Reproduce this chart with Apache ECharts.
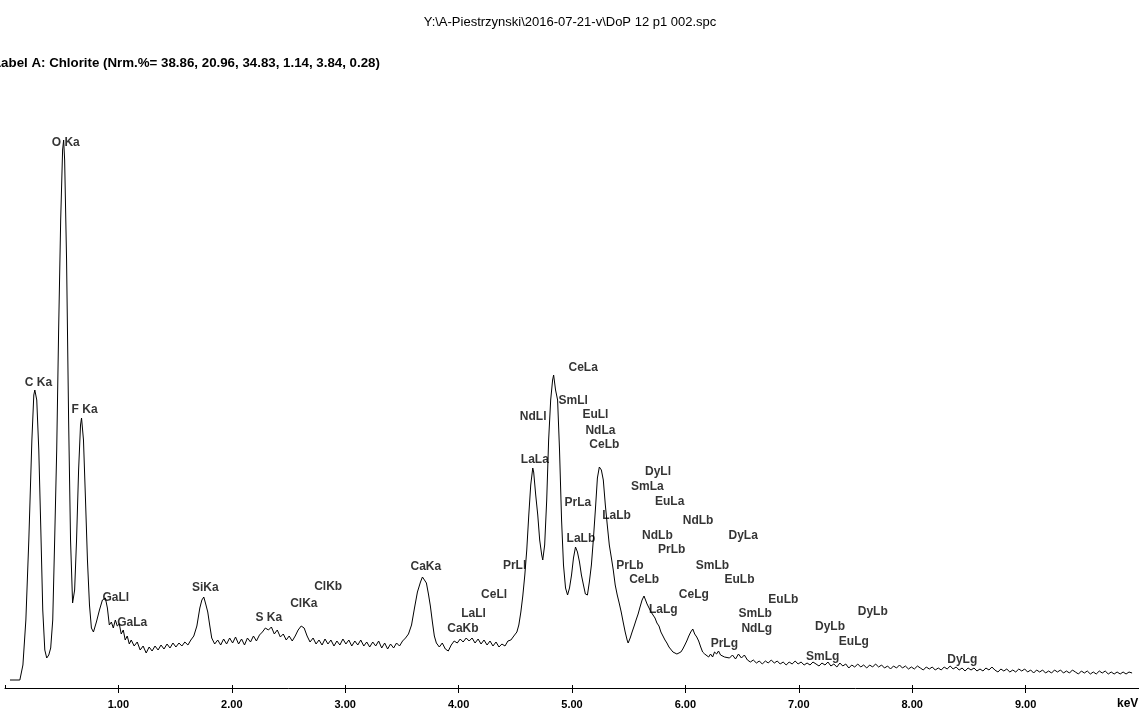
<!DOCTYPE html>
<html><head><meta charset="utf-8">
<script src="https://cdn.jsdelivr.net/npm/echarts/dist/echarts.min.js"></script>
<style>html,body{margin:0;padding:0;background:#fff;overflow:hidden}#c{width:1139px;height:711px}</style>
</head><body><div id="c"></div>
<script>
const titleText = 'Y:\\A-Piestrzynski\\2016-07-21-v\\DoP 12 p1 002.spc';
const labelText = 'Label A: Chlorite (Nrm.%= 38.86, 20.96, 34.83, 1.14, 3.84, 0.28)';
const axisUnit = 'keV';

const energyKeV = [
0.044,0.131,0.158,0.184,0.210,0.237,0.254,0.263,0.280,0.298,
0.316,0.333,0.351,0.368,0.386,0.403,0.421,0.438,0.456,0.473,
0.491,0.508,0.517,0.526,0.543,0.561,0.578,0.596,0.614,0.631,
0.649,0.666,0.675,0.692,0.710,0.727,0.745,0.762,0.780,0.806,
0.833,0.859,0.885,0.903,0.920,0.938,0.955,0.973,0.990,1.008,
1.025,1.043,1.060,1.078,1.096,1.113,1.139,1.166,1.192,1.218,
1.245,1.271,1.297,1.323,1.350,1.376,1.402,1.429,1.455,1.481,
1.507,1.534,1.560,1.586,1.613,1.639,1.665,1.692,1.718,1.736,
1.753,1.770,1.788,1.805,1.823,1.849,1.876,1.902,1.928,1.954,
1.981,2.007,2.033,2.060,2.086,2.112,2.138,2.165,2.191,2.217,
2.244,2.270,2.296,2.323,2.349,2.375,2.401,2.428,2.454,2.480,
2.506,2.533,2.559,2.585,2.612,2.638,2.664,2.690,2.717,2.743,
2.769,2.796,2.822,2.848,2.874,2.901,2.927,2.953,2.980,3.006,
3.032,3.058,3.085,3.111,3.137,3.164,3.190,3.216,3.243,3.269,
3.295,3.322,3.348,3.374,3.400,3.427,3.453,3.479,3.506,3.532,
3.558,3.585,3.611,3.637,3.664,3.681,3.699,3.716,3.734,3.751,
3.769,3.786,3.804,3.830,3.856,3.883,3.909,3.935,3.961,3.988,
4.014,4.040,4.067,4.093,4.119,4.145,4.172,4.198,4.224,4.251,
4.277,4.303,4.330,4.356,4.382,4.409,4.435,4.461,4.487,4.514,
4.531,4.549,4.566,4.584,4.601,4.619,4.636,4.654,4.662,4.680,
4.698,4.715,4.733,4.742,4.759,4.777,4.794,4.812,4.829,4.838,
4.855,4.873,4.890,4.908,4.925,4.943,4.961,4.978,4.996,5.013,
5.031,5.048,5.066,5.083,5.101,5.118,5.136,5.153,5.171,5.188,
5.206,5.224,5.241,5.259,5.276,5.294,5.311,5.329,5.346,5.364,
5.381,5.399,5.416,5.434,5.451,5.469,5.486,5.495,5.513,5.530,
5.548,5.565,5.583,5.600,5.618,5.635,5.644,5.662,5.679,5.697,
5.714,5.732,5.749,5.767,5.784,5.802,5.820,5.837,5.855,5.872,
5.890,5.907,5.925,5.942,5.960,5.977,5.995,6.012,6.030,6.047,
6.065,6.082,6.100,6.117,6.135,6.152,6.170,6.187,6.205,6.222,
6.240,6.257,6.275,6.292,6.310,6.327,6.345,6.362,6.389,6.415,
6.442,6.468,6.494,6.520,6.547,6.573,6.599,6.626,6.652,6.678,
6.705,6.731,6.757,6.784,6.810,6.836,6.862,6.889,6.915,6.941,
6.968,6.994,7.020,7.047,7.073,7.099,7.125,7.152,7.178,7.204,
7.231,7.257,7.283,7.309,7.336,7.362,7.388,7.414,7.441,7.467,
7.493,7.520,7.546,7.572,7.599,7.625,7.651,7.677,7.704,7.730,
7.756,7.783,7.809,7.835,7.862,7.888,7.914,7.940,7.967,7.993,
8.019,8.046,8.072,8.098,8.124,8.151,8.177,8.203,8.230,8.256,
8.282,8.308,8.335,8.361,8.387,8.414,8.440,8.466,8.493,8.519,
8.545,8.571,8.598,8.624,8.650,8.677,8.703,8.729,8.756,8.782,
8.808,8.834,8.861,8.887,8.913,8.940,8.966,8.992,9.018,9.045,
9.071,9.097,9.124,9.150,9.176,9.203,9.229,9.255,9.281,9.308,
9.334,9.360,9.387,9.413,9.439,9.466,9.492,9.518,9.544,9.571,
9.597,9.623,9.650,9.676,9.702,9.729,9.755,9.781,9.807,9.834,
9.860,9.886,9.912,9.939
];

const counts = [
8,8,23,68,148,248,293,298,288,238,
158,78,38,30,33,40,68,148,238,358,
468,538,548,528,428,268,148,85,98,148,
218,263,270,248,188,128,83,60,56,66,
78,88,90,80,63,66,60,68,62,64,
54,58,48,52,44,48,42,46,38,42,
35,41,37,42,38,43,39,44,40,45,
41,45,42,46,43,48,52,62,80,88,
91,84,76,63,50,44,48,43,49,44,
50,45,51,44,49,43,50,46,52,47,
53,56,60,58,61,54,58,51,54,48,
52,47,52,58,62,60,52,46,50,44,
48,43,49,44,48,42,47,43,49,44,
48,42,47,43,48,42,46,41,46,42,
47,40,45,39,44,40,45,42,47,50,
54,63,80,96,106,111,108,105,94,82,
66,52,45,41,45,39,37,43,47,45,
49,46,50,47,50,45,49,44,48,43,
47,42,46,41,44,42,47,48,52,56,
63,76,92,113,138,173,203,220,216,193,
173,148,133,128,143,188,248,288,308,313,
298,288,238,168,123,100,93,100,113,130,
141,136,126,113,103,94,93,106,123,148,
178,210,221,218,208,183,163,143,131,118,
103,93,85,76,66,56,48,45,50,56,
62,68,74,81,88,92,94,84,82,76,
74,70,65,62,56,52,48,45,41,39,
36,38,34,33,36,39,43,47,52,56,
59,54,51,47,41,36,34,32,31,34,
31,36,34,37,33,35,31,33,30,33,
29,34,30,33,28,26,28,25,27,24,
27,25,28,25,27,24,26,23,26,24,
27,24,26,23,25,23,26,24,22,25,
23,26,22,24,21,25,22,24,20,23,
21,24,21,23,20,23,21,24,21,23,
20,22,19,22,20,23,20,22,19,21,
19,22,20,18,21,19,21,18,20,18,
21,19,22,19,21,18,20,17,20,18,
20,17,19,17,20,18,21,18,16,19,
17,19,16,18,16,19,17,19,16,18,
15,18,16,18,15,17,15,18,16,18,
15,17,15,18,16,14,17,15,17,14,
16,14,17,15,17,14,16,14,16,14,
16,14,16,15
];

// peak identification labels: name, left-edge energy (keV), level (counts)
const peakNames = ['O Ka','C Ka','F Ka','GaLl','GaLa','SiKa','S Ka','ClKa','ClKb','CaKa',
  'CaKb','LaLl','CeLl','PrLl','LaLa','NdLl','CeLa','SmLl','EuLl','NdLa',
  'CeLb','PrLa','LaLb','LaLb','DyLl','SmLa','EuLa','NdLb','NdLb','DyLa',
  'PrLb','PrLb','SmLb','CeLb','EuLb','CeLg','EuLb','LaLg','SmLb','DyLb',
  'DyLb','NdLg','EuLg','PrLg','SmLg','DyLg'];
const peakKeV = [0.412,0.175,0.587,0.859,0.990,1.648,2.209,2.515,2.726,3.576,
  3.900,4.023,4.198,4.391,4.549,4.540,4.969,4.882,5.092,5.118,
  5.153,4.934,5.267,4.952,5.644,5.521,5.732,5.977,5.618,6.380,
  5.758,5.390,6.091,5.504,6.345,5.942,6.731,5.679,6.468,7.520,
  7.143,6.494,7.353,6.223,7.064,8.309];
const peakLevel = [545,305,278,90,65,100,70,84,101,121,
  59,74,93,122,228,271,320,287,273,257,
  243,185,172,149,216,201,186,167,152,152,
  138,122,122,108,108,93,88,78,74,76,
  61,59,46,44,31,28];

const chart = echarts.init(document.getElementById('c'), null, {renderer: 'canvas'});
const n = Math.min(energyKeV.length, counts.length);
const spectrum = [];
for (let i = 0; i < n; i++) spectrum.push([energyKeV[i], counts[i]]);
const peaks = peakNames.map((nm, i) => [peakKeV[i], peakLevel[i], nm]);

const sans = '"Liberation Sans", Arial, sans-serif';

chart.setOption({
  animation: false,
  backgroundColor: '#ffffff',
  graphic: [
    {type: 'text', x: 570, y: 22, silent: true,
      style: {text: titleText, font: '13px "Liberation Sans", Arial, sans-serif', fill: '#000', align: 'center', verticalAlign: 'middle'}},
    {type: 'text', x: -7, y: 63, silent: true,
      style: {text: labelText, font: 'bold 13.3px "Liberation Sans", Arial, sans-serif', fill: '#000', align: 'left', verticalAlign: 'middle'}},
    {type: 'text', x: 1117, y: 704, silent: true,
      style: {text: axisUnit, font: 'bold 12px "Liberation Sans", Arial, sans-serif', fill: '#000', align: 'left', verticalAlign: 'middle'}}
  ],
  grid: {left: 5, top: 88, width: 1141, bottom: 23, containLabel: false},
  xAxis: [{
    type: 'value', min: 0, max: 10, interval: 1,
    axisLine: {show: true, onZero: false, lineStyle: {color: '#000', width: 1}},
    axisTick: {show: true, inside: false, length: 5, lineStyle: {color: '#000'}},
    axisLabel: {show: true, margin: 11, showMinLabel: false, showMaxLabel: false,
      formatter: v => v.toFixed(2),
      fontFamily: sans, fontWeight: 'bold', fontSize: 11, color: '#000'},
    splitLine: {show: false}
  }, {
    type: 'value', min: 0, max: 10, interval: 1, position: 'bottom', gridIndex: 0,
    axisLine: {show: false},
    axisTick: {show: true, inside: true, length: 3, lineStyle: {color: '#000'}},
    axisLabel: {show: false},
    splitLine: {show: false}
  }],
  yAxis: {type: 'value', min: 0, max: 600, show: false, splitLine: {show: false}},
  series: [{
    type: 'line',
    data: spectrum,
    showSymbol: false,
    symbol: 'none',
    lineStyle: {color: '#000', width: 1},
    silent: true,
    z: 2
  }, {
    type: 'scatter',
    data: peaks,
    symbolSize: 0,
    silent: true,
    z: 3,
    label: {
      show: true, position: 'right', distance: 0,
      formatter: p => p.data[2],
      fontFamily: sans, fontWeight: 'bold', fontSize: 12, color: '#000'
    }
  }]
});
</script>
</body></html>
